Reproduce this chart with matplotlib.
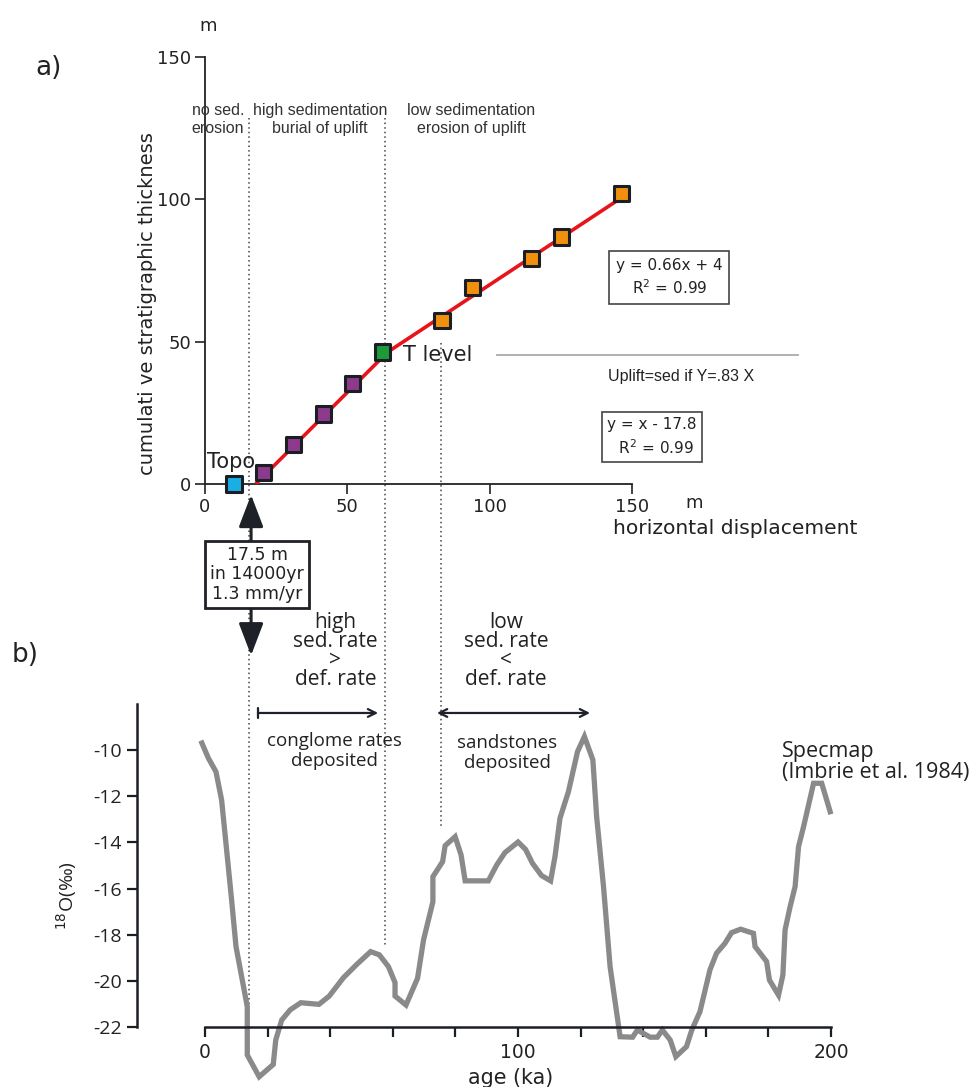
import matplotlib.pyplot as plt
import numpy as np

plt.rcParams['font.family'] = ['DejaVu Sans']
plt.rcParams['axes.unicode_minus'] = False

# a) cumulative thickness vs horizontal displacement
disp = [10.2, 20.6, 31.1, 41.6, 51.8, 62.5, 83.3, 93.9, 114.8, 125.3, 146.3]
thick = [0.0, 4.0, 13.9, 24.6, 35.2, 46.4, 57.5, 69.0, 79.2, 86.8, 102.0]
pt_colors = ['#1aaee6', '#8e3a8c', '#8e3a8c', '#8e3a8c', '#8e3a8c', '#1d9a3a',
             '#f0900c', '#f0900c', '#f0900c', '#f0900c', '#f0900c']
fit_low = (1.0, -17.8)    # y = x - 17.8
fit_high = (0.66, 4.0)    # y = 0.66x + 4
fit_start, fit_end = 17.8, 146.3

# b) Specmap d18O
age = [-1, 1.1, 3.5, 5.3, 6.9, 8.5, 9.9, 11.7, 13.5, 13.5, 17.3, 21.8, 22.6, 24.5,
       27.2, 30.6, 36.4, 39.7, 44.2, 48.5, 52.9, 55.7, 58.6, 60.7, 60.7, 64.2,
       67.9, 69.8, 72.8, 72.8, 75.9, 76.7, 79.9, 81.8, 83.1, 90.5, 93.2, 95.8,
       100.0, 102.4, 104.6, 107.5, 110.4, 111.8, 113.4, 116.1, 119.0, 121.2,
       123.9, 125.1, 127.3, 129.4, 132.6, 136.6, 138.1, 142.2, 144.5, 146.1,
       148.6, 150.4, 153.8, 155.5, 158.1, 161.3, 163.4, 166.1, 168.2, 171.1,
       175.2, 175.7, 179.4, 180.3, 183.2, 184.6, 185.3, 186.9, 188.5, 189.6,
       191.2, 194.4, 197.0, 199.7]
d18o = [-9.7, -10.36, -10.94, -12.16, -14.32, -16.49, -18.5, -19.8, -21.1, -23.19,
        -24.13, -23.6, -22.54, -21.68, -21.24, -20.93, -21.0, -20.64, -19.85,
        -19.27, -18.72, -18.86, -19.37, -20.06, -20.64, -21.03, -19.87, -18.22,
        -16.56, -15.48, -14.83, -14.14, -13.75, -14.54, -15.66, -15.66, -14.97,
        -14.44, -13.98, -14.3, -14.9, -15.43, -15.66, -14.61, -12.95, -11.8,
        -10.07, -9.42, -10.43, -12.88, -15.91, -19.37, -22.40, -22.42, -22.11,
        -22.42, -22.42, -22.11, -22.54, -23.26, -22.83, -22.11, -21.32, -19.51,
        -18.79, -18.36, -17.9, -17.75, -17.93, -18.5, -19.15, -19.95, -20.6,
        -19.73, -17.78, -16.78, -15.91, -14.18, -13.32, -11.44, -11.44, -12.67]

# region boundaries (displacement units of panel a)
bounds_x = [15.3, 63.2, 83.0]
bounds_top = [128.6, 128.6, 49.5]
bounds_bot = [-183.7, -162.6, -120.8]

dark = '#1e2228'
narrow = ['Liberation Sans', 'DejaVu Sans']
humanist = ['Open Sans', 'DejaVu Sans']

fig = plt.figure(figsize=(9.76, 10.87), dpi=100)

# ---------------- panel a ----------------
ax = fig.add_axes([0.2100, 0.5547, 0.4375, 0.3928])
ax.set_xlim(0, 150)
ax.set_ylim(0, 150)
for s in ['top', 'right']:
    ax.spines[s].set_visible(False)
for s in ['left', 'bottom']:
    ax.spines[s].set_linewidth(1.3)
    ax.spines[s].set_color('#222222')
ax.set_xticks([0, 50, 100, 150])
ax.set_yticks([0, 50, 100, 150])
ax.tick_params(direction='out', length=7, width=1.2, color='#222222',
               labelsize=13, labelcolor='#222222', pad=3)
ax.patch.set_alpha(0)

for bx_, bt, bb in zip(bounds_x, bounds_top, bounds_bot):
    ax.plot([bx_, bx_], [bt, bb], ls=(0, (1, 2)), lw=1.1, color='#444444',
            clip_on=False, zorder=1)

xa = np.array([fit_start, (fit_high[1] - fit_low[1]) / (fit_low[0] - fit_high[0])])
xb = np.array([xa[1], fit_end])
ax.plot(xa, fit_low[0] * xa + fit_low[1], color='#e8141b', lw=2.6, zorder=3,
        solid_capstyle='butt')
ax.plot(xb, fit_high[0] * xb + fit_high[1], color='#e8141b', lw=2.6, zorder=3,
        solid_capstyle='butt')
ax.scatter(disp, thick, marker='s', s=120, c=pt_colors, edgecolors='#1b1f24',
           linewidths=2.2, zorder=5, clip_on=False)

ax.text(1.0, 161, 'm', fontsize=13, color='#222222', ha='center', va='center')
ax.text(171.8, -6.7, 'm', fontsize=13, color='#222222', ha='center', va='center')
ax.text(143.3, -15.5, 'horizontal displacement', fontsize=14.6, color='#222222',
        ha='left', va='center')
ax.text(-20.2, 63.5, 'cumulati ve stratigraphic thickness', fontsize=14,
        color='#222222', rotation=90, ha='center', va='center')
ax.text(-55, 146, 'a)', fontsize=19, color='#222222', ha='center', va='center')
ax.text(-63, -60, 'b)', fontsize=19, color='#222222', ha='center', va='center')

ax.text(4.5, 128.2, 'no sed.\nerosion', fontsize=11.5, family=narrow,
        color='#333333', ha='center', va='center', linespacing=1.25)
ax.text(40.5, 128.2, 'high sedimentation\nburial of uplift', fontsize=11.5,
        family=narrow, color='#333333', ha='center', va='center', linespacing=1.25)
ax.text(93.5, 128.2, 'low sedimentation\nerosion of uplift', fontsize=11.5,
        family=narrow, color='#333333', ha='center', va='center', linespacing=1.25)

ax.text(69.5, 45.3, 'T level', fontsize=15, color='#222222', ha='left', va='center')
ax.text(0.6, 7.6, 'Topo', fontsize=15, color='#222222', ha='left', va='center')

ax.text(163.1, 72.7, 'y = 0.66x + 4\nR$^2$ = 0.99', fontsize=11, color='#222222',
        ha='center', va='center', linespacing=1.35,
        bbox=dict(boxstyle='square,pad=0.45', fc='white', ec='#444444', lw=1.2))
ax.text(157.0, 16.5, 'y = x - 17.8\n  R$^2$ = 0.99', fontsize=11, color='#222222',
        ha='center', va='center', linespacing=1.35,
        bbox=dict(boxstyle='square,pad=0.35', fc='white', ec='#444444', lw=1.2))
ax.plot([102.6, 208.3], [45.3, 45.3], color='#aaaaaa', lw=1.3, clip_on=False)
ax.text(167.4, 37.9, 'Uplift=sed if Y=.83 X', fontsize=11.5, family=narrow,
        color='#222222', ha='center', va='center')

head = '-|>,head_length=1.1,head_width=0.42'
ax.annotate('', xy=(16.2, -3.8), xytext=(16.2, -19.8), annotation_clip=False,
            arrowprops=dict(arrowstyle=head, mutation_scale=18, color=dark, lw=2.2,
                            shrinkA=0, shrinkB=0))
ax.annotate('', xy=(16.2, -60.2), xytext=(16.2, -43.6), annotation_clip=False,
            arrowprops=dict(arrowstyle=head, mutation_scale=18, color=dark, lw=2.2,
                            shrinkA=0, shrinkB=0))
ax.text(18.3, -31.7, '17.5 m\nin 14000yr\n1.3 mm/yr', fontsize=12.5, color='#222222',
        ha='center', va='center', linespacing=1.1, zorder=6,
        bbox=dict(boxstyle='square,pad=0.3', fc='white', ec=dark, lw=2.0))

ax.text(45.8, -58.7, 'high\nsed. rate\n>\ndef. rate', fontsize=15, family=humanist,
        color='#222222', ha='center', va='center', linespacing=0.86)
ax.text(105.8, -58.7, 'low\nsed. rate\n<\ndef. rate', fontsize=15, family=humanist,
        color='#222222', ha='center', va='center', linespacing=0.86)

# ---------------- panel b ----------------
bx = fig.add_axes([0.1332, 0.0018, 0.7889, 0.3542])
bx.set_xlim(-23.96, 222.0)
bx.set_ylim(-24.49, -7.84)
bx.patch.set_alpha(0)
for s in ['top', 'right']:
    bx.spines[s].set_visible(False)
bx.spines['left'].set_position(('data', -21.7))
bx.spines['left'].set_bounds(-22, -8)
bx.spines['bottom'].set_position(('data', -22))
bx.spines['bottom'].set_bounds(0, 200)
for s in ['left', 'bottom']:
    bx.spines[s].set_linewidth(1.8)
    bx.spines[s].set_color('#1b1f24')
bx.set_yticks(np.arange(-22, -9, 2))
bx.set_xticks([0, 100, 200])
bx.set_xticks(np.arange(0, 201, 20), minor=True)
bx.tick_params(which='both', direction='out', length=7, width=1.6, color='#1b1f24',
               labelsize=13.5, labelcolor='#222222', pad=4)
for lab in bx.get_yticklabels():
    lab.set_family(humanist)
    lab.set_fontsize(14)

bx.plot(age, d18o, color='#8a8a8a', lw=3.8, solid_joinstyle='miter', zorder=2,
        clip_on=False)

bx.text(97.5, -24.2, 'age (ka)', fontsize=14.9, color='#222222', ha='center',
        va='center')
bx.text(-44.1, -16.3, '$^{18}$O(‰)', fontsize=14, family=humanist, color='#222222',
        rotation=90, ha='center', va='center')

bx.annotate('', xy=(55.3, -8.4), xytext=(16.9, -8.4),
            arrowprops=dict(arrowstyle=']->,widthA=0.25,lengthA=0', color=dark,
                            lw=1.6, mutation_scale=14, shrinkA=0, shrinkB=0))
bx.annotate('', xy=(123.0, -8.4), xytext=(74.1, -8.4),
            arrowprops=dict(arrowstyle='<->', color=dark, lw=1.6,
                            mutation_scale=14, shrinkA=0, shrinkB=0))

bx.text(41.2, -10.04, 'conglome rates\ndeposited', fontsize=13.5, family=humanist,
        color='#222222', ha='center', va='center', linespacing=1.15)
bx.text(96.5, -10.13, 'sandstones\ndeposited', fontsize=13.5, family=humanist,
        color='#222222', ha='center', va='center', linespacing=1.15)
bx.text(184.3, -10.52, 'Specmap\n(Imbrie et al. 1984)', fontsize=15.5,
        family=humanist, color='#222222', ha='left', va='center', linespacing=1.0)

fig.savefig('out.png', dpi=100)
